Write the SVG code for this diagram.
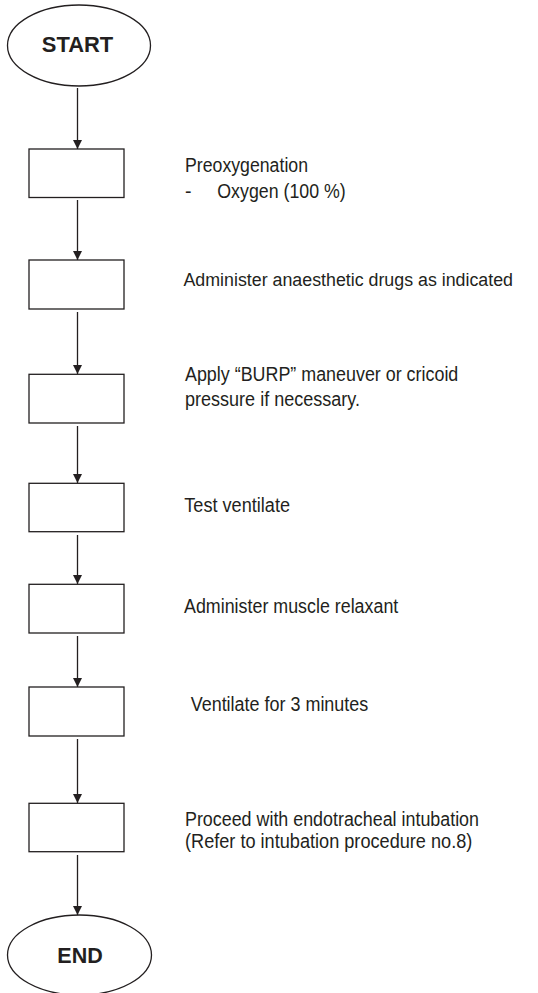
<svg xmlns="http://www.w3.org/2000/svg" width="538" height="993" viewBox="0 0 538 993">
  <style>
    .shape { fill: #ffffff; stroke: #231f20; stroke-width: 1.3; }
    .conn { stroke: #231f20; stroke-width: 1.3; fill: none; }
    .lbl { font-family: "Liberation Sans", Arial, sans-serif; font-size: 19.5px; fill: #231f20; }
    .lbl.wide { font-size: 18px; }
    .term { font-family: "Liberation Sans", Arial, sans-serif; font-size: 22px; font-weight: bold; fill: #231f20; text-anchor: middle; }
  </style>
  <defs>
    <marker id="arrow" viewBox="0 0 10 10" refX="10" refY="5" markerWidth="9" markerHeight="10" markerUnits="userSpaceOnUse" orient="auto">
      <path d="M0,0 L10,5 L0,10 Z" fill="#231f20"/>
    </marker>
  </defs>
  <rect width="538" height="993" fill="#ffffff"/>

  <!-- flow connectors -->
  <g id="connectors">
    <line class="conn" x1="77.5" y1="88" x2="77.5" y2="149" marker-end="url(#arrow)"/>
    <line class="conn" x1="77.5" y1="200" x2="77.5" y2="260" marker-end="url(#arrow)"/>
    <line class="conn" x1="77.5" y1="312" x2="77.5" y2="374" marker-end="url(#arrow)"/>
    <line class="conn" x1="77.5" y1="426" x2="77.5" y2="483" marker-end="url(#arrow)"/>
    <line class="conn" x1="77.5" y1="535" x2="77.5" y2="584" marker-end="url(#arrow)"/>
    <line class="conn" x1="77.5" y1="636" x2="77.5" y2="687" marker-end="url(#arrow)"/>
    <line class="conn" x1="77.5" y1="739" x2="77.5" y2="803" marker-end="url(#arrow)"/>
    <line class="conn" x1="77.5" y1="855" x2="77.5" y2="915" marker-end="url(#arrow)"/>
  </g>

  <g id="start">
    <ellipse class="shape" cx="79" cy="45.5" rx="71.5" ry="40.5"/>
    <text class="term" x="77.5" y="51.7" textLength="71.5" lengthAdjust="spacingAndGlyphs">START</text>
  </g>

  <g id="step1">
    <rect class="shape" x="29" y="149" width="95" height="48.5"/>
    <text class="lbl" x="185" y="171.7" textLength="123" lengthAdjust="spacingAndGlyphs">Preoxygenation</text>
    <text class="lbl" x="185" y="198.3">-</text>
    <text class="lbl" x="217.3" y="198.3" textLength="128.4" lengthAdjust="spacingAndGlyphs">Oxygen (100 %)</text>
  </g>

  <g id="step2">
    <rect class="shape" x="29" y="260" width="95" height="49"/>
    <text class="lbl wide" x="183.5" y="286" textLength="329.5" lengthAdjust="spacingAndGlyphs">Administer anaesthetic drugs as indicated</text>
  </g>

  <g id="step3">
    <rect class="shape" x="29" y="374.3" width="95" height="48.7"/>
    <text class="lbl" x="185" y="380.7" textLength="273.3" lengthAdjust="spacingAndGlyphs">Apply “BURP” maneuver or cricoid</text>
    <text class="lbl" x="185" y="405.7" textLength="175" lengthAdjust="spacingAndGlyphs">pressure if necessary.</text>
  </g>

  <g id="step4">
    <rect class="shape" x="29" y="483.3" width="95" height="48.4"/>
    <text class="lbl" x="184.3" y="512.3" textLength="105.7" lengthAdjust="spacingAndGlyphs">Test ventilate</text>
  </g>

  <g id="step5">
    <rect class="shape" x="29" y="584.3" width="95" height="48.7"/>
    <text class="lbl" x="184" y="613.3" textLength="214.3" lengthAdjust="spacingAndGlyphs">Administer muscle relaxant</text>
  </g>

  <g id="step6">
    <rect class="shape" x="29" y="687" width="95" height="49"/>
    <text class="lbl" x="190.7" y="710.7" textLength="177.6" lengthAdjust="spacingAndGlyphs">Ventilate for 3 minutes</text>
  </g>

  <g id="step7">
    <rect class="shape" x="29" y="803.3" width="95" height="48.4"/>
    <text class="lbl" x="185" y="826" textLength="294" lengthAdjust="spacingAndGlyphs">Proceed with endotracheal intubation</text>
    <text class="lbl" x="185" y="847.7" textLength="287.3" lengthAdjust="spacingAndGlyphs">(Refer to intubation procedure no.8)</text>
  </g>

  <g id="end">
    <ellipse class="shape" cx="79.5" cy="955" rx="72" ry="40"/>
    <text class="term" x="80" y="963.3" textLength="45.4" lengthAdjust="spacingAndGlyphs">END</text>
  </g>
</svg>
